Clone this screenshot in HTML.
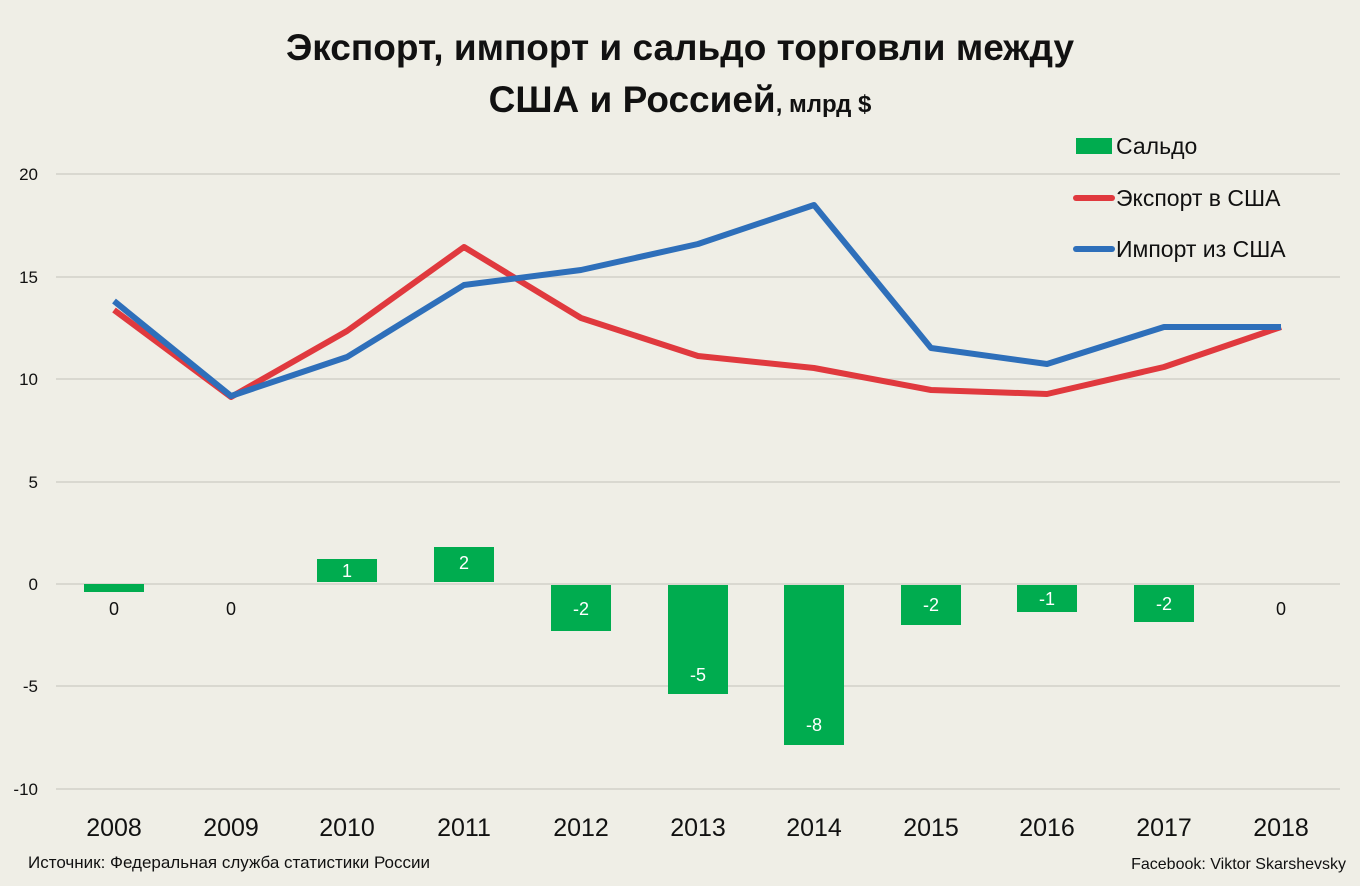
<!DOCTYPE html>
<html><head><meta charset="utf-8"><style>
body{margin:0;background:#efeee6;}
svg{display:block;font-family:"Liberation Sans","DejaVu Sans",sans-serif;}
</style></head><body>
<svg width="1360" height="886" viewBox="0 0 1360 886">
<rect width="1360" height="886" fill="#efeee6"/>
<text x="680" y="60" text-anchor="middle" font-size="37" font-weight="bold" fill="#111">Экспорт, импорт и сальдо торговли между</text>
<text x="680" y="112" text-anchor="middle" font-weight="bold" fill="#111"><tspan font-size="37">США и Россией</tspan><tspan font-size="24">, млрд $</tspan></text>
<g stroke="#d9d8d0" stroke-width="2">
<line x1="56" x2="1340" y1="174" y2="174"/><line x1="56" x2="1340" y1="277" y2="277"/>
<line x1="56" x2="1340" y1="379" y2="379"/><line x1="56" x2="1340" y1="482" y2="482"/>
<line x1="56" x2="1340" y1="584" y2="584"/><line x1="56" x2="1340" y1="686" y2="686"/>
<line x1="56" x2="1340" y1="789" y2="789"/>
</g>
<g font-size="17" fill="#111" text-anchor="end">
<text x="38" y="180">20</text><text x="38" y="283">15</text><text x="38" y="385">10</text>
<text x="38" y="488">5</text><text x="38" y="590">0</text><text x="38" y="692">-5</text><text x="38" y="795">-10</text>
</g>
<g fill="#00ac4f">
<rect x="84" y="584" width="60" height="8"/>
<rect x="317" y="559" width="60" height="23"/>
<rect x="434" y="547" width="60" height="35"/>
<rect x="551" y="585" width="60" height="46"/>
<rect x="668" y="585" width="60" height="109"/>
<rect x="784" y="585" width="60" height="160"/>
<rect x="901" y="585" width="60" height="40"/>
<rect x="1017" y="585" width="60" height="27"/>
<rect x="1134" y="585" width="60" height="37"/>
</g>
<g font-size="18" text-anchor="middle" fill="#fff">
<text x="347" y="577">1</text><text x="464" y="569">2</text><text x="581" y="615">-2</text>
<text x="698" y="681">-5</text><text x="814" y="731">-8</text><text x="931" y="611">-2</text>
<text x="1047" y="605">-1</text><text x="1164" y="610">-2</text>
</g>
<g font-size="18" text-anchor="middle" fill="#111">
<text x="114" y="615">0</text><text x="231" y="615">0</text><text x="1281" y="615">0</text>
</g>
<polyline fill="none" stroke="#e0393e" stroke-width="6" stroke-linejoin="round" points="114,310 231,397 347,331 464,247 581,318 698,356 814,368 931,390 1047,394 1164,367 1281,327"/>
<polyline fill="none" stroke="#2e6fba" stroke-width="6" stroke-linejoin="round" points="114,301 231,396 347,357 464,285 581,270 698,244 814,205 931,348 1047,364 1164,327 1281,327"/>
<g font-size="25" text-anchor="middle" fill="#111">
<text x="114" y="836">2008</text><text x="231" y="836">2009</text><text x="347" y="836">2010</text>
<text x="464" y="836">2011</text><text x="581" y="836">2012</text><text x="698" y="836">2013</text>
<text x="814" y="836">2014</text><text x="931" y="836">2015</text><text x="1047" y="836">2016</text>
<text x="1164" y="836">2017</text><text x="1281" y="836">2018</text>
</g>
<rect x="1076" y="138" width="36" height="16" fill="#00ac4f"/>
<line x1="1076" x2="1112" y1="198" y2="198" stroke="#e0393e" stroke-width="6" stroke-linecap="round"/>
<line x1="1076" x2="1112" y1="249" y2="249" stroke="#2e6fba" stroke-width="6" stroke-linecap="round"/>
<g font-size="23" fill="#111">
<text x="1116" y="154">Сальдо</text><text x="1116" y="206">Экспорт в США</text><text x="1116" y="257">Импорт из США</text>
</g>
<text x="28" y="868" font-size="17" fill="#111">Источник: Федеральная служба статистики России</text>
<text x="1346" y="869" font-size="16" fill="#111" text-anchor="end">Facebook: Viktor Skarshevsky</text>
</svg>
</body></html>
